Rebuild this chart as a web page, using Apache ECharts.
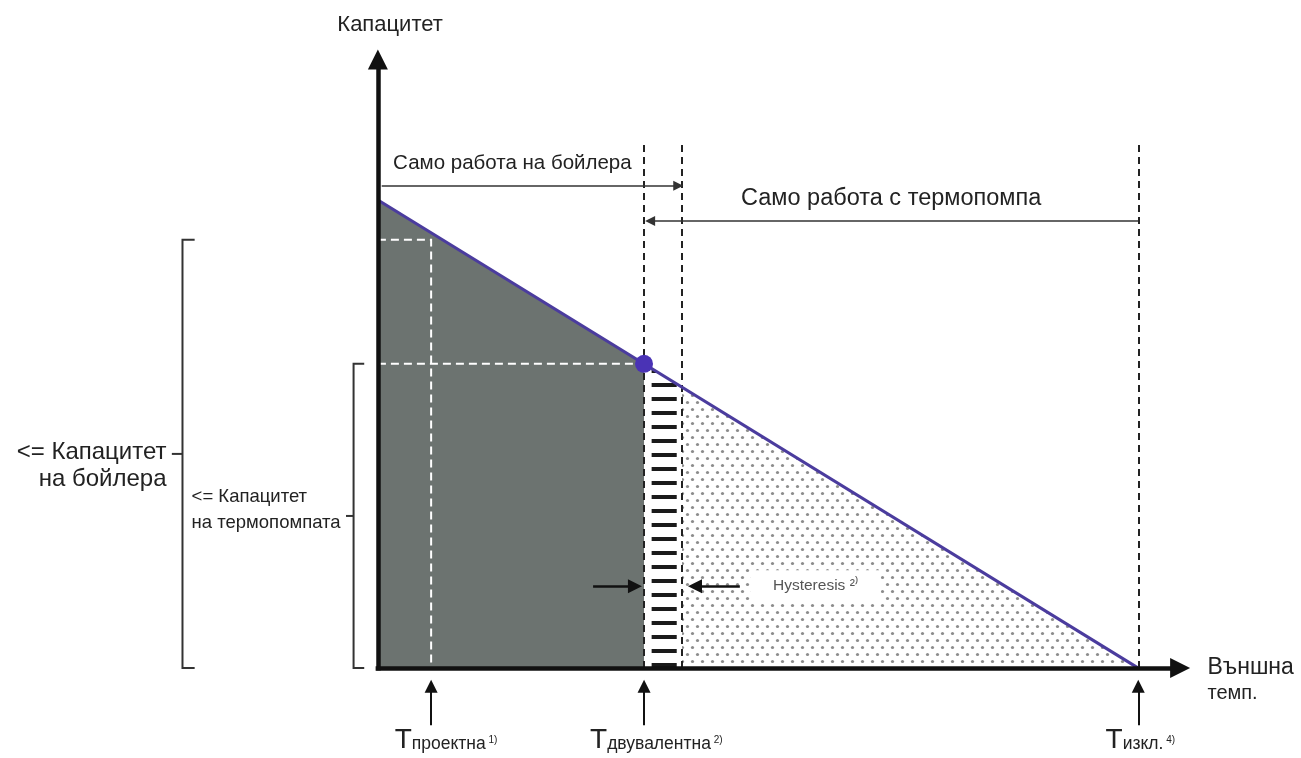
<!DOCTYPE html>
<html>
<head>
<meta charset="utf-8">
<script src="https://cdn.jsdelivr.net/npm/echarts@6/dist/echarts.min.js"></script>
<style>
  html, body { margin: 0; background: #fff; }
  #chart { width: 1301px; height: 758px; }
</style>
</head>
<body>
<div id="chart"></div>
<script>
// x: outdoor temperature position (0 = axis origin, 100 = switch-off point)
// y: capacity in % of the max heating demand
var capacityLine = [[0, 100], [100, 0]];
var tPoints = [7, 35, 40, 100];          // T design, T bivalent, end of hysteresis, T off
var boilerCapacity = 91.5;
var pumpCapacity = 65;
var boilerArea = [[0, 100], [35, 65]];
var hysteresisBand = [[36, 64], [39.3, 60.7]];
var pumpArea = [[40, 60], [100, 0]];
var dashTop = 111.8;
var arrowRows = [103, 95.5, 17.5];      // boiler only, heat pump only, hysteresis
var bottomLabels = ["проектна", "двувалентна", "изкл."];
var bottomNotes = ["1)", "2)", "4)"];
var bottomLabelX = [2.2, 27.9, 95.7];

var FONT = '"Liberation Sans", Arial, sans-serif';
var TEXT = "#222";

function makePattern(w, h, draw) {
  var c = document.createElement("canvas");
  c.width = w;
  c.height = h;
  var g = c.getContext("2d");
  g.fillStyle = "#fff";
  g.fillRect(0, 0, w, h);
  draw(g);
  return c;
}
var dots = makePattern(10, 14, function(g) {
  g.fillStyle = "#8c8c8c";
  g.beginPath(); g.arc(2.5, 3.5, 1.6, 0, Math.PI * 2); g.fill();
  g.beginPath(); g.arc(7.5, 10.5, 1.6, 0, Math.PI * 2); g.fill();
});
var stripes = makePattern(10, 14, function(g) {
  g.fillStyle = "#1a1a1a";
  g.fillRect(0, 5, 10, 4);
});

function areaSeries(data, fill) {
  return {
    type: "line",
    data: data,
    symbol: "none",
    lineStyle: { width: 0 },
    areaStyle: { color: fill, opacity: 1 },
    z: 1,
    silent: true
  };
}

function linesSeries(data, style, extra) {
  var s = {
    type: "lines",
    coordinateSystem: "cartesian2d",
    data: data.map(function(c) { return { coords: c }; }),
    lineStyle: style,
    symbol: "none",
    silent: true,
    z: 3
  };
  for (var k in extra) s[k] = extra[k];
  return s;
}

function textItem(x, y, text, label) {
  var l = { show: true, position: "inside", formatter: text, color: TEXT, fontFamily: FONT, opacity: 1 };
  for (var k in label) l[k] = label[k];
  return { value: [x, y], label: l };
}

var tD = tPoints[0], tB = tPoints[1], tH = tPoints[2], tO = tPoints[3];

var bottomArrows = tPoints.filter(function(v, i) { return i !== 2; }).map(function(x) {
  return [[x, -12.2], [x, -3.9]];
});

var texts = [
  textItem(1.6, 137.4, "Капацитет", { fontSize: 22, align: "center", verticalAlign: "middle" }),
  textItem(2, 107.9, "Само работа на бойлера", { fontSize: 20.5, align: "left", verticalAlign: "middle" }),
  textItem(67.5, 100.4, "Само работа с термопомпа", { fontSize: 23.5, align: "center", verticalAlign: "middle" }),
  textItem(-27.8, 43.3, "<= Капацитет\nна бойлера", { fontSize: 24, lineHeight: 27, align: "right", verticalAlign: "middle" }),
  textItem(-24.5, 33.8, "<= Капацитет\nна термопомпата", { fontSize: 18.5, lineHeight: 26, align: "left", verticalAlign: "middle" }),
  textItem(109.1, 0, "Външна", { fontSize: 23, align: "left", verticalAlign: "middle" }),
  textItem(109.1, -5.5, "темп.", { fontSize: 20, align: "left", verticalAlign: "middle" }),
  textItem(57.6, 17.5, "Hysteresis ²⁾", {
    fontSize: 15.5, color: "#555", align: "center", verticalAlign: "middle",
    backgroundColor: "#fff", padding: [8, 22, 8, 22]
  })
];
bottomLabels.forEach(function(name, i) {
  texts.push(textItem(bottomLabelX[i], -15.4, "{t|T}{s|" + name + "}{u| " + bottomNotes[i] + "}", {
    align: "left",
    verticalAlign: "middle",
    rich: {
      t: { fontSize: 28, color: TEXT, fontFamily: FONT, verticalAlign: "bottom" },
      s: { fontSize: 17.5, color: TEXT, fontFamily: FONT, verticalAlign: "bottom", padding: [0, 0, 1, 0] },
      u: { fontSize: 10, color: TEXT, fontFamily: FONT, verticalAlign: "bottom", padding: [0, 0, 9, 0] }
    }
  }));
});

var chart = echarts.init(document.getElementById("chart"));
chart.setOption({
  animation: false,
  backgroundColor: "#fff",
  grid: { left: 0, right: 0, top: 0, bottom: 0 },
  xAxis: { type: "value", min: -49.7, max: 121.4, show: false },
  yAxis: { type: "value", min: -19.2, max: 142.7, show: false },
  series: [
    areaSeries(boilerArea, "#6c7370"),
    areaSeries(hysteresisBand, { image: stripes, repeat: "repeat" }),
    areaSeries(pumpArea, { image: dots, repeat: "repeat" }),
    // white helper lines in the boiler area
    linesSeries([
      [[0, boilerCapacity], [tD, boilerCapacity], [tD, 0]],
      [[0, pumpCapacity], [tB - 0.7, pumpCapacity]]
    ], { color: "#fff", width: 2, type: [8, 5], opacity: 1 }, { polyline: true }),
    // black dashed temperature lines
    linesSeries([
      [[tB, 0], [tB, dashTop]],
      [[tH, 0], [tH, dashTop]],
      [[tO, 0], [tO, dashTop]]
    ], { color: "#222", width: 2, type: [7, 5], opacity: 1 }),
    // brackets
    linesSeries([
      [[-24.1, boilerCapacity], [-25.7, boilerCapacity], [-25.7, 0], [-24.1, 0]],
      [[-25.7, boilerCapacity / 2], [-27.1, boilerCapacity / 2]],
      [[-1.8, pumpCapacity], [-3.2, pumpCapacity], [-3.2, 0], [-1.8, 0]],
      [[-3.2, pumpCapacity / 2], [-4.2, pumpCapacity / 2]]
    ], { color: "#333", width: 2, opacity: 1 }, { polyline: true }),
    {
      type: "line",
      data: capacityLine,
      symbol: "none",
      lineStyle: { color: "#4b3c9e", width: 3 },
      z: 5,
      silent: true
    },
    {
      type: "scatter",
      data: [[tB, pumpCapacity]],
      symbolSize: 18,
      itemStyle: { color: "#4a33b5", opacity: 1 },
      z: 6,
      silent: true
    },
    // axes
    linesSeries([
      [[0, -0.5], [0, 130]],
      [[-0.3, 0], [105.5, 0]]
    ], { color: "#111", width: 4.5, opacity: 1 }, { symbol: ["none", "triangle"], symbolSize: 20, z: 7 }),
    // operating range arrows
    linesSeries([
      [[0.5, arrowRows[0]], [39.5, arrowRows[0]]],
      [[tO, arrowRows[1]], [35.8, arrowRows[1]]]
    ], { color: "#333", width: 1.5, opacity: 1 }, { symbol: ["none", "triangle"], symbolSize: 10 }),
    // hysteresis arrows
    linesSeries([
      [[28.3, arrowRows[2]], [33.8, arrowRows[2]]],
      [[47.6, arrowRows[2]], [41.7, arrowRows[2]]]
    ], { color: "#111", width: 2.5, opacity: 1 }, { symbol: ["none", "triangle"], symbolSize: 14 }),
    // temperature markers under the axis
    linesSeries(bottomArrows, { color: "#111", width: 2, opacity: 1 }, { symbol: ["none", "triangle"], symbolSize: 13 }),
    {
      type: "scatter",
      data: texts,
      symbolSize: 1,
      itemStyle: { color: "rgba(0,0,0,0)", opacity: 1 },
      z: 10,
      silent: true
    }
  ]
});
</script>
</body>
</html>
